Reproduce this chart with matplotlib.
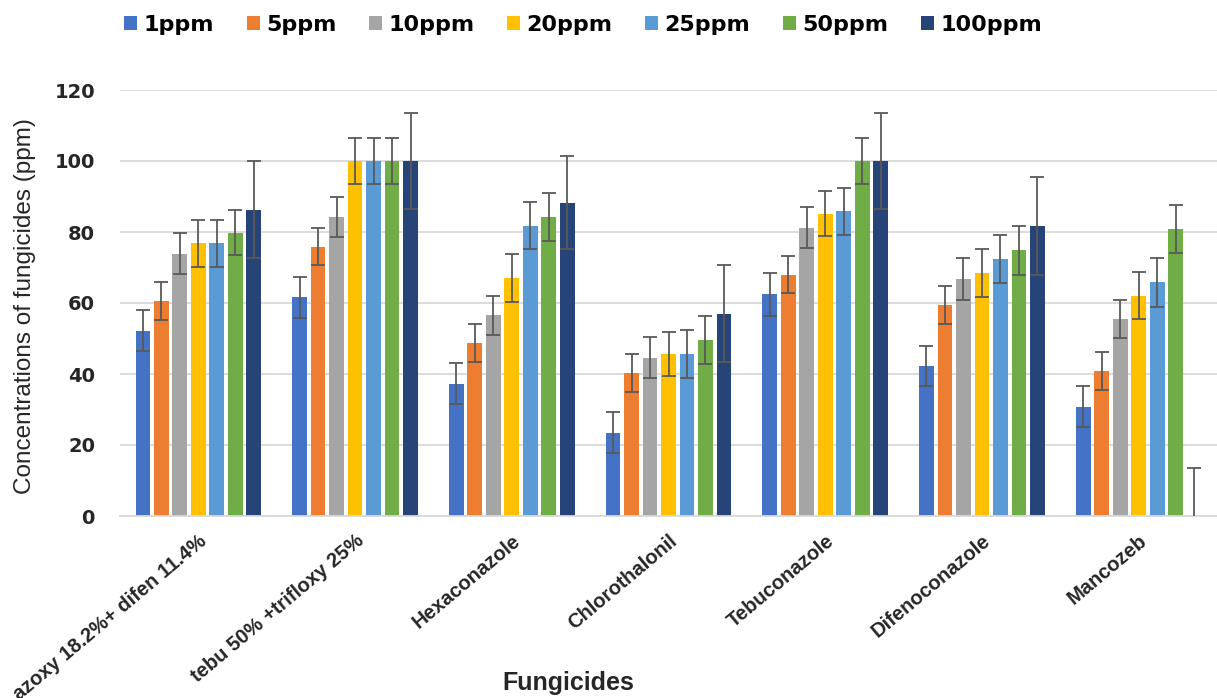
import matplotlib.pyplot as plt
import numpy as np
from matplotlib.patches import Patch

plt.rcParams['font.family'] = ['Liberation Sans', 'DejaVu Sans']

# Fungicides on the x axis and the concentration series
fungicides = ["azoxy 18.2%+ difen 11.4%", "tebu 50% +trifloxy 25%", "Hexaconazole",
              "Chlorothalonil", "Tebuconazole", "Difenoconazole", "Mancozeb"]
series = ["1ppm", "5ppm", "10ppm", "20ppm", "25ppm", "50ppm", "100ppm"]

# values[series][fungicide]
values = {
    "1ppm":   [52.2, 61.6, 37.3, 23.5, 62.4, 42.3, 30.8],
    "5ppm":   [60.6, 75.9, 48.7, 40.2, 67.9, 59.5, 40.8],
    "10ppm":  [73.9, 84.2, 56.5, 44.6, 81.2, 66.8, 55.5],
    "20ppm":  [76.8, 100.0, 67.0, 45.6, 85.2, 68.4, 62.1],
    "25ppm":  [76.8, 100.0, 81.8, 45.6, 85.8, 72.4, 65.9],
    "50ppm":  [79.8, 100.0, 84.2, 49.6, 100.0, 74.8, 80.8],
    "100ppm": [86.3, 100.0, 88.3, 57.0, 100.0, 81.7, 0.0],
}
errors = {
    "1ppm":   [5.7, 5.7, 5.8, 5.7, 6.0, 5.7, 5.8],
    "5ppm":   [5.3, 5.3, 5.3, 5.3, 5.2, 5.3, 5.3],
    "10ppm":  [5.7, 5.7, 5.4, 5.8, 5.8, 5.9, 5.3],
    "20ppm":  [6.6, 6.5, 6.8, 6.3, 6.4, 6.8, 6.6],
    "25ppm":  [6.6, 6.5, 6.7, 6.8, 6.7, 6.7, 6.9],
    "50ppm":  [6.3, 6.5, 6.8, 6.8, 6.5, 6.8, 6.7],
    "100ppm": [13.6, 13.4, 13.2, 13.7, 13.4, 13.7, 13.4],
}

colors = ["#4472C4", "#ED7D31", "#A5A5A5", "#FFC000", "#5B9BD5", "#70AD47", "#264478"]

fig = plt.figure(figsize=(12.17, 6.98), dpi=100)
ax = fig.add_axes([120 / 1217, (698 - 516) / 698, 1 - 120 / 1217, (516 - 90) / 698])

x = np.arange(len(fungicides))
slot = 0.118
width = 0.094
for i, s in enumerate(series):
    pos = x + (i - 3) * slot
    ax.bar(pos, values[s], width, color=colors[i], zorder=2)
    ax.errorbar(pos, values[s], yerr=errors[s], fmt='none', ecolor='#595959',
                elinewidth=1.3, capsize=5, capthick=1.3, zorder=3)

ax.set_xlim(-0.5, len(fungicides) - 0.5)
ax.set_ylim(0, 120)
ax.set_yticks(range(0, 121, 20))
ax.yaxis.grid(True, color='#d9d9d9', linewidth=1.3, zorder=0)
ax.set_axisbelow(True)
for side in ['top', 'right', 'left']:
    ax.spines[side].set_visible(False)
ax.spines['bottom'].set_color('#d9d9d9')
ax.spines['bottom'].set_linewidth(1.3)
ax.tick_params(axis='both', length=0)
ax.tick_params(axis='y', pad=18)
for lab in ax.get_yticklabels():
    lab.set_fontfamily('DejaVu Sans')
    lab.set_fontweight('bold')
    lab.set_fontsize(14)
    lab.set_color('#262626')

ax.set_xticks(x)
ax.set_xticklabels(fungicides, rotation=40, ha='right', va='top',
                   rotation_mode='anchor', fontsize=14.5,
                   fontweight='bold', color='#262626')
ax.tick_params(axis='x', pad=11)

fig.text(25 / 1217, 1 - 306 / 698, "Concentrations of fungicides (ppm)", rotation=90,
         ha='center', va='center', fontsize=17.5, color='#262626')
fig.text(568 / 1217, 1 - 683 / 698, "Fungicides", ha='center', va='center',
         fontsize=18, fontweight='bold', color='#262626')

handles = [Patch(facecolor=c, label=s) for c, s in zip(colors, series)]
fig.legend(handles=handles, loc='center', bbox_to_anchor=(583 / 1217, 1 - 25 / 698),
           ncol=7, frameon=False, handlelength=0.6, handleheight=0.55,
           handletextpad=0.27, columnspacing=1.47,
           prop={'family': 'DejaVu Sans', 'size': 16, 'weight': 'bold'})

fig.savefig("out.png", dpi=100)
